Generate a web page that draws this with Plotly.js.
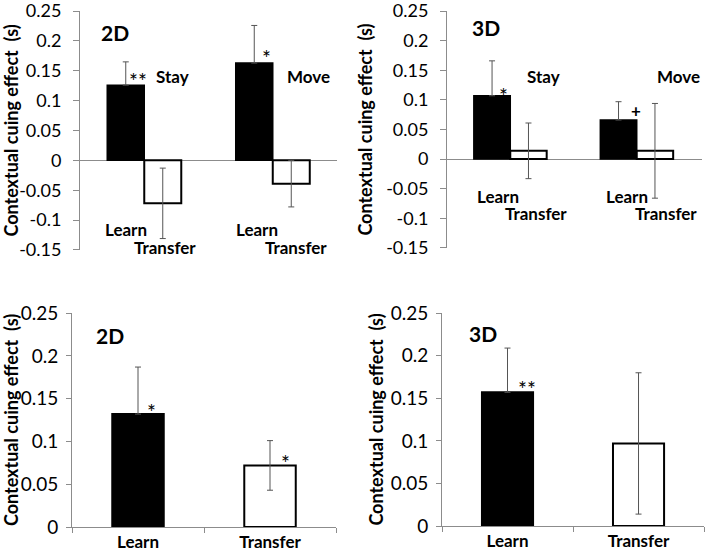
<!DOCTYPE html>
<html>
<head>
<meta charset="utf-8">
<script src="https://cdn.plot.ly/plotly-3.0.1.min.js"></script>
<style>html,body{margin:0;padding:0;background:#fff}#chart{width:708px;height:553px}</style>
</head>
<body>
<div id="chart"></div>
<script>
// ---------- data ----------
const topGroups = ['Stay', 'Move'];
const tl_learn = [0.126, 0.163];
const tl_learn_err = [0.039, 0.063];
const tl_transfer = [-0.072, -0.039];
const tl_transfer_err = [0.059, 0.039];

const tr_learn = [0.107, 0.066];
const tr_learn_err = [0.059, 0.031];
const tr_transfer = [0.014, 0.014];
const tr_transfer_err = [0.047, 0.080];

const botCats = ['Learn', 'Transfer'];
const bl_vals = [0.132, 0.072];
const bl_err = [0.055, 0.029];
const br_vals = [0.157, 0.097];
const br_err = [0.052, 0.083];

const topTickVals = [-0.15, -0.1, -0.05, 0, 0.05, 0.1, 0.15, 0.2, 0.25];
const topTickText = ['-0.15', '-0.1', '-0.05', '0', '0.05', '0.1', '0.15', '0.2', '0.25'];
const botTickVals = [0, 0.05, 0.1, 0.15, 0.2, 0.25];
const botTickText = ['0', '0.05', '0.1', '0.15', '0.2', '0.25'];

const yTitle = 'Contextual cuing effect\u00a0 (s)';

// ---------- styles ----------
const FONT = 'Lato, "Open Sans", sans-serif';
const AX = '#8c8c8c';
const ERRCOL = '#555555';

// black (Learn) bars: the lower half of the whisker is hidden inside the solid bar
function learnErr(err) {
  return {type: 'data', symmetric: false, array: err, arrayminus: err.map(() => 0),
    color: ERRCOL, thickness: 1, width: 3, visible: true};
}
function fullErr(err) {
  return {type: 'data', array: err, color: ERRCOL, thickness: 1, width: 3, visible: true};
}

function learnTrace(y, err, xa, ya) {
  return {type: 'bar', x: topGroups, y: y, xaxis: xa, yaxis: ya, name: 'Learn',
    marker: {color: '#000', line: {color: '#000', width: 1.5}},
    error_y: learnErr(err), showlegend: false, hoverinfo: 'y'};
}
function transferTrace(y, err, xa, ya) {
  return {type: 'bar', x: topGroups, y: y, xaxis: xa, yaxis: ya, name: 'Transfer',
    marker: {color: '#fff', line: {color: '#000', width: 2}},
    error_y: fullErr(err), showlegend: false, hoverinfo: 'y'};
}
function botTraces(y, err, xa, ya) {
  return [
    {type: 'bar', x: botCats.slice(0, 1), y: y.slice(0, 1), xaxis: xa, yaxis: ya, width: 0.39,
      marker: {color: '#000', line: {color: '#000', width: 2}},
      error_y: learnErr(err.slice(0, 1)), showlegend: false, hoverinfo: 'y'},
    {type: 'bar', x: botCats.slice(1), y: y.slice(1), xaxis: xa, yaxis: ya, width: 0.39,
      marker: {color: '#fff', line: {color: '#000', width: 2}},
      error_y: fullErr(err.slice(1)), showlegend: false, hoverinfo: 'y'}
  ];
}

const data = [
  learnTrace(tl_learn, tl_learn_err, 'x', 'y'),
  transferTrace(tl_transfer, tl_transfer_err, 'x', 'y'),
  learnTrace(tr_learn, tr_learn_err, 'x2', 'y2'),
  transferTrace(tr_transfer, tr_transfer_err, 'x2', 'y2')
].concat(botTraces(bl_vals, bl_err, 'x3', 'y3'), botTraces(br_vals, br_err, 'x4', 'y4'));

function topX(dom, anchor) {
  return {domain: dom, anchor: anchor, type: 'category', showline: false, showticklabels: false,
    ticks: '', showgrid: false, zeroline: false, fixedrange: true};
}
function topY(dom, anchor) {
  return {domain: dom, anchor: anchor, range: [-0.1502, 0.2502], tickvals: topTickVals, ticktext: topTickText,
    showline: true, linecolor: AX, linewidth: 1, ticks: 'outside', ticklen: 6, tickcolor: AX,
    ticklabelstandoff: 8, ticklabeloverflow: 'allow', showgrid: false,
    zeroline: true, zerolinecolor: AX, zerolinewidth: 1,
    tickfont: {family: FONT, size: 18, color: '#000'},
    title: {text: yTitle, font: {family: FONT, size: 18, color: '#000', weight: 'bold'}, standoff: 8}};
}
function botX(dom, anchor) {
  return {domain: dom, anchor: anchor, type: 'category', categoryorder: 'array', categoryarray: botCats,
    showline: true, linecolor: AX, linewidth: 1,
    ticks: 'outside', tickson: 'boundaries', ticklen: 5, tickcolor: AX, showgrid: false, zeroline: false,
    tickfont: {family: FONT, size: 17, color: '#000', weight: 'bold'}};
}
function botY(dom, anchor) {
  return {domain: dom, anchor: anchor, range: [0, 0.2502], tickvals: botTickVals, ticktext: botTickText,
    showline: true, linecolor: AX, linewidth: 1, ticks: 'outside', ticklen: 5, tickcolor: AX,
    ticklabelstandoff: 4, ticklabeloverflow: 'allow', showgrid: false, zeroline: false,
    tickfont: {family: FONT, size: 19, color: '#000'},
    title: {text: yTitle, font: {family: FONT, size: 18, color: '#000', weight: 'bold'}, standoff: 2}};
}

function ann(text, xref, yref, x, y, size, bold) {
  return {text: text, xref: xref, yref: yref, x: x, y: y, showarrow: false,
    xanchor: 'center', yanchor: 'middle',
    font: {family: FONT, size: size, color: '#000', weight: bold ? 'bold' : 'normal'}};
}

const annotations = [
  // top-left 2D
  ann('2D', 'x', 'y', -0.228, 0.2145, 21, true),
  ann('**', 'x', 'y', -0.045, 0.134, 21, false),
  ann('Stay', 'x', 'y', 0.22, 0.141, 17, true),
  ann('*', 'x', 'y', 0.955, 0.172, 21, false),
  ann('Move', 'x', 'y', 1.28, 0.141, 17, true),
  ann('Learn', 'x', 'y', -0.144, -0.115, 17, true),
  ann('Transfer', 'x', 'y', 0.158, -0.146, 17, true),
  ann('Learn', 'x', 'y', 0.874, -0.115, 17, true),
  ann('Transfer', 'x', 'y', 1.18, -0.146, 17, true),
  // top-right 3D
  ann('3D', 'x2', 'y2', -0.19, 0.2225, 21, true),
  ann('*', 'x2', 'y2', -0.054, 0.108, 21, false),
  ann('Stay', 'x2', 'y2', 0.26, 0.14, 17, true),
  ann('+', 'x2', 'y2', 0.993, 0.0827, 17, true),
  ann('Move', 'x2', 'y2', 1.33, 0.14, 17, true),
  ann('Learn', 'x2', 'y2', -0.1, -0.063, 17, true),
  ann('Transfer', 'x2', 'y2', 0.2, -0.092, 17, true),
  ann('Learn', 'x2', 'y2', 0.92, -0.063, 17, true),
  ann('Transfer', 'x2', 'y2', 1.23, -0.092, 17, true),
  // bottom-left 2D
  ann('2D', 'x3', 'y3', -0.212, 0.2238, 21, true),
  ann('*', 'x3', 'y3', 0.104, 0.135, 21, false),
  ann('*', 'x3', 'y3', 1.114, 0.0755, 21, false),
  // bottom-right 3D
  ann('3D', 'x4', 'y4', -0.187, 0.226, 21, true),
  ann('**', 'x4', 'y4', 0.145, 0.161, 21, false)
];

const layout = {
  width: 708, height: 553,
  margin: {l: 0, r: 0, t: 0, b: 0},
  paper_bgcolor: '#fff', plot_bgcolor: 'rgba(0,0,0,0)',
  barmode: 'group', bargap: 0.424, bargroupgap: 0,
  showlegend: false,
  font: {family: FONT, color: '#000'},
  xaxis: topX([0.1130, 0.4760], 'y'),
  yaxis: topY([0.5479, 0.9801], 'x'),
  xaxis2: topX([0.6314, 0.9915], 'y2'),
  yaxis2: topY([0.5515, 0.9801], 'x2'),
  xaxis3: botX([0.1017, 0.4746], 'y3'),
  yaxis3: botY([0.0470, 0.4340], 'x3'),
  xaxis4: botX([0.6243, 0.9944], 'y4'),
  yaxis4: botY([0.0488, 0.4340], 'x4'),
  annotations: annotations
};

Plotly.newPlot('chart', data, layout, {displayModeBar: false, staticPlot: true});
</script>
</body>
</html>
